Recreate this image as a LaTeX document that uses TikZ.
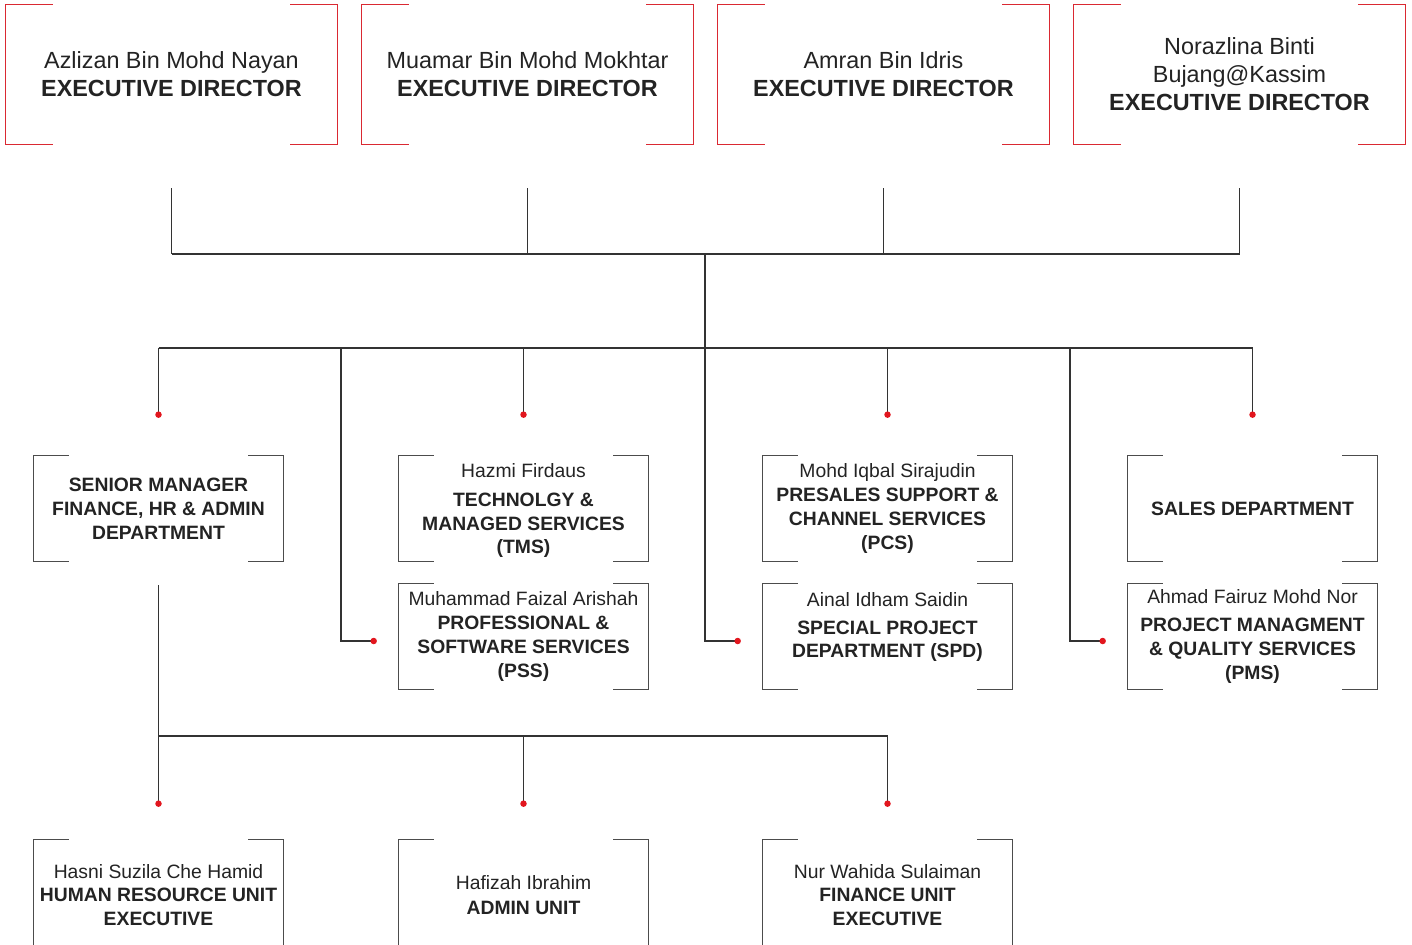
\documentclass[tikz,border=0pt]{standalone}
\usepackage{fontspec}
\setmainfont{Liberation Sans}
\definecolor{rouge}{RGB}{218,41,50}
\definecolor{point}{RGB}{226,22,30}
\definecolor{encre}{RGB}{35,35,35}
\begin{document}
\begin{tikzpicture}[x=0.02cm,y=-0.02cm,
	dir/.style={minimum width=6.62cm,minimum height=2.78cm,inner xsep=1pt,align=center,text=encre,font=\fontsize{13.3}{15.9}\selectfont},
	dep/.style={minimum width=4.98cm,minimum height=2.1cm,inner xsep=1pt,inner ysep=0pt,align=center,text=encre,font=\fontsize{11}{13.6}\selectfont},
	lien/.style={draw=black!80,line width=0.6pt},
	cadre/.style={draw=black!70,line width=0.6pt}]
	\path[use as bounding box,clip] (0,0) rectangle (1412,945);
	% les directeurs
	\node[dir] (ed1) at (171.5,74.5) {Azlizan Bin Mohd Nayan\\\textbf{EXECUTIVE DIRECTOR}};
	\node[dir] (ed2) at (527.5,74.5) {Muamar Bin Mohd Mokhtar\\\textbf{EXECUTIVE DIRECTOR}};
	\node[dir] (ed3) at (883.5,74.5) {Amran Bin Idris\\\textbf{EXECUTIVE DIRECTOR}};
	\node[dir] (ed4) at (1239.5,74.5) {Norazlina Binti\\Bujang@Kassim\\\textbf{EXECUTIVE DIRECTOR}};
	\foreach \n in {ed1,ed2,ed3,ed4} {
		\draw[rouge,line width=0.8pt] ([xshift=0.94cm]\n.north west) -- (\n.north west) -- (\n.south west) -- ([xshift=0.94cm]\n.south west);
		\draw[rouge,line width=0.8pt] ([xshift=-0.94cm]\n.north east) -- (\n.north east) -- (\n.south east) -- ([xshift=-0.94cm]\n.south east);
	}
	% les departements
	\node[dep] (fin) at (158.5,508.5) {\textbf{SENIOR MANAGER}\\\textbf{FINANCE, HR \& ADMIN}\\\textbf{DEPARTMENT}};
	\node[dep,text depth=0pt] (tms) at (523.5,508.5) {Hazmi Firdaus\\[3pt]\textbf{TECHNOLGY \&}\\\textbf{MANAGED SERVICES}\\\textbf{(TMS)}};
	\node[dep] (pcs) at (887.5,508.5) {Mohd Iqbal Sirajudin\\\textbf{PRESALES SUPPORT \&}\\\textbf{CHANNEL SERVICES}\\\textbf{(PCS)}};
	\node[dep] (sales) at (1252.5,508.5) {\textbf{SALES DEPARTMENT}};
	\node[dep] (pss) at (523.5,636.5) {Muhammad Faizal Arishah\\\textbf{PROFESSIONAL \&}\\\textbf{SOFTWARE SERVICES}\\\textbf{(PSS)}};
	\node[dep,text depth=0.45cm] (spd) at (887.5,636.5) {Ainal Idham Saidin\\[2pt]\textbf{SPECIAL PROJECT}\\\textbf{DEPARTMENT (SPD)}};
	\node[dep] (pms) at (1252.5,636.5) {Ahmad Fairuz Mohd Nor\\[2pt]\textbf{PROJECT MANAGMENT}\\\textbf{\& QUALITY SERVICES}\\\textbf{(PMS)}};
	% les unites
	\node[dep,minimum height=2.2cm] (hr) at (158.5,895) {Hasni Suzila Che Hamid\\\textbf{HUMAN RESOURCE UNIT}\\\textbf{EXECUTIVE}};
	\node[dep,minimum height=2.2cm] (adm) at (523.5,895) {Hafizah Ibrahim\\[1pt]\textbf{ADMIN UNIT}};
	\node[dep,minimum height=2.2cm] (fnu) at (887.5,895) {Nur Wahida Sulaiman\\\textbf{FINANCE UNIT}\\\textbf{EXECUTIVE}};
	\foreach \n in {fin,tms,pcs,sales,pss,spd,pms,hr,adm,fnu} {
		\draw[cadre] ([xshift=0.7cm]\n.north west) -- (\n.north west) -- (\n.south west) -- ([xshift=0.7cm]\n.south west);
		\draw[cadre] ([xshift=-0.7cm]\n.north east) -- (\n.north east) -- (\n.south east) -- ([xshift=-0.7cm]\n.south east);
	}
	% les liaisons
	\coordinate (jonc) at (705,254);
	\coordinate (bus) at (705,348);
	\coordinate (v1) at (341,348);
	\coordinate (v3) at (1070,348);
	\coordinate (bas) at (159,736);
	\foreach \n in {ed1,ed2,ed3,ed4}
		\draw[lien] ([yshift=-0.88cm]\n.south) -- (\n.south |- jonc);
	\draw[lien] (ed1.south |- jonc) -- (ed4.south |- jonc);
	\draw[lien] (jonc) -- (bus);
	\draw[lien] (fin.north |- bus) -- (sales.north |- bus);
	\foreach \n in {fin,tms,pcs,sales} {
		\draw[lien] (\n.north |- bus) -- ([yshift=0.82cm]\n.north);
		\fill[point] ([yshift=0.82cm]\n.north) circle (0.065cm);
	}
	\foreach \l/\n in {v1/pss,bus/spd,v3/pms} {
		\draw[lien] (\l) |- ([xshift=-0.5cm]\n.west |- 0,641);
		\fill[point] ([xshift=-0.5cm]\n.west |- 0,641) circle (0.065cm);
	}
	\draw[lien] ([yshift=-0.48cm]fin.south) -- (fin.south |- bas);
	\draw[lien] (hr.north |- bas) -- (fnu.north |- bas);
	\foreach \n in {hr,adm,fnu} {
		\draw[lien] (\n.north |- bas) -- ([yshift=0.72cm]\n.north);
		\fill[point] ([yshift=0.72cm]\n.north) circle (0.065cm);
	}
\end{tikzpicture}
\end{document}
